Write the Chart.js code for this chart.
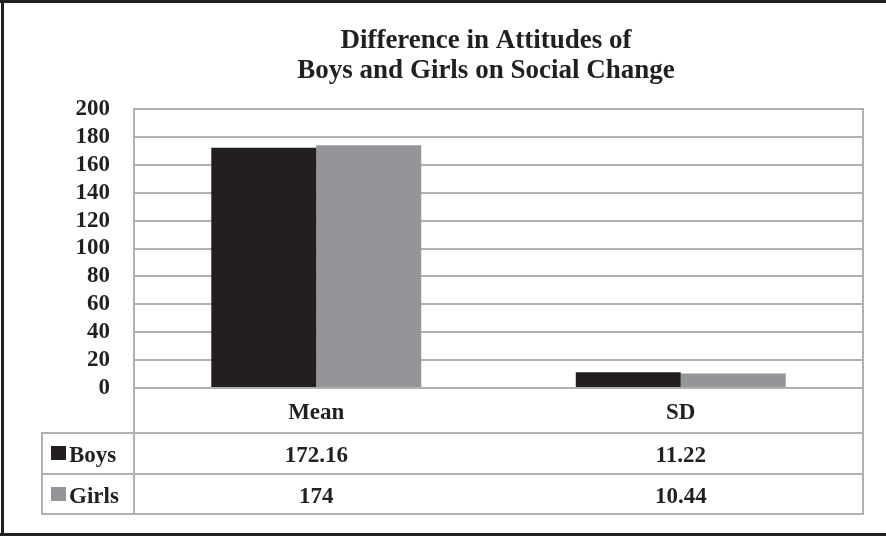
<!DOCTYPE html>
<html>
<head>
<meta charset="utf-8">
<script src="https://cdn.jsdelivr.net/npm/chart.js@4"></script>
<style>
  html, body { margin: 0; padding: 0; background: #ffffff; }
  #wrap { width: 886px; height: 536px; }
</style>
</head>
<body>
<div id="wrap"><canvas id="chart" width="886" height="536"></canvas></div>
<script>
// Categories and series
const categories = ['Mean', 'SD'];
const seriesNames = ['Boys', 'Girls'];
const boysValues = [172.16, 11.22];
const girlsValues = [174, 10.44];
const boysLabels = ['172.16', '11.22'];
const girlsLabels = ['174', '10.44'];
const yTickLabels = ['0', '20', '40', '60', '80', '100', '120', '140', '160', '180', '200'];
const titleLines = ['Difference in Attitudes of', 'Boys and Girls on Social Change'];

const BOYS_COLOR = '#231f20';
const GIRLS_COLOR = '#939598';
const GRID_COLOR = '#b0b0b0';
const TEXT_COLOR = '#231f20';
const SERIF = '"Liberation Serif", "Times New Roman", Times, serif';

// Frame, two-line title and the data table under the category axis
const tablePlugin = {
  id: 'dataTable',
  afterDraw(chart) {
    const ctx = chart.ctx;
    const area = chart.chartArea;
    const xs = chart.scales.x;
    const left = 42, axisLeft = area.left, right = area.right;
    const rowTops = [433, 474, 514];
    ctx.save();

    // frame
    ctx.fillStyle = BOYS_COLOR;
    ctx.fillRect(0, 0, 886, 3);
    ctx.fillRect(1, 0, 3, 536);
    ctx.fillRect(0, 533, 886, 3);

    // title
    ctx.fillStyle = TEXT_COLOR;
    ctx.font = 'bold 27px ' + SERIF;
    ctx.textAlign = 'center';
    ctx.textBaseline = 'alphabetic';
    ctx.fillText(titleLines[0], 486, 48);
    ctx.fillText(titleLines[1], 486, 78);

    // table lines
    ctx.strokeStyle = GRID_COLOR;
    ctx.lineWidth = 2;
    ctx.beginPath();
    rowTops.forEach(y => { ctx.moveTo(left, y); ctx.lineTo(right + 1, y); });
    ctx.moveTo(left, rowTops[0] - 1); ctx.lineTo(left, rowTops[2] + 1);
    ctx.moveTo(axisLeft, area.top - 1); ctx.lineTo(axisLeft, rowTops[2] + 1);
    ctx.moveTo(right, area.top - 1); ctx.lineTo(right, rowTops[2] + 1);
    ctx.stroke();

    // rows: legend key, series name, values
    const rows = [
      { name: seriesNames[0], color: BOYS_COLOR, labels: boysLabels, base: 462, key: 446 },
      { name: seriesNames[1], color: GIRLS_COLOR, labels: girlsLabels, base: 503, key: 487 }
    ];
    ctx.font = 'bold 23px ' + SERIF;
    rows.forEach(r => {
      ctx.fillStyle = r.color;
      ctx.fillRect(51, r.key, 15, 14);
      ctx.fillStyle = TEXT_COLOR;
      ctx.textAlign = 'left';
      ctx.fillText(r.name, 69, r.base);
      ctx.textAlign = 'center';
      r.labels.forEach((t, i) => ctx.fillText(t, xs.getPixelForValue(i), r.base));
    });
    ctx.restore();
  }
};

new Chart(document.getElementById('chart'), {
  type: 'bar',
  data: {
    labels: categories,
    datasets: [
      { label: seriesNames[0], data: boysValues, backgroundColor: BOYS_COLOR, borderWidth: 0 },
      { label: seriesNames[1], data: girlsValues, backgroundColor: GIRLS_COLOR, borderWidth: 0 }
    ]
  },
  options: {
    responsive: false,
    animation: false,
    devicePixelRatio: 1,
    layout: { padding: { left: 74, right: 23, top: 109, bottom: 103 } },
    datasets: { bar: { categoryPercentage: 0.576, barPercentage: 1.0 } },
    plugins: {
      legend: { display: false },
      tooltip: { enabled: false },
      title: { display: false }
    },
    scales: {
      x: {
        grid: { display: false, drawTicks: false },
        border: { display: false },
        ticks: {
          color: TEXT_COLOR,
          padding: 11,
          font: { family: SERIF, size: 23, weight: 'bold' }
        },
        afterFit(scale) { scale.height = 45; }
      },
      y: {
        min: 0,
        max: 200,
        grid: { color: GRID_COLOR, lineWidth: 2, drawTicks: false },
        border: { display: true, color: GRID_COLOR, width: 2 },
        ticks: {
          stepSize: 20,
          autoSkip: false,
          color: TEXT_COLOR,
          padding: 24,
          font: { family: SERIF, size: 23, weight: 'bold' },
          callback: (v, i) => yTickLabels[i]
        },
        afterFit(scale) { scale.width = 60; }
      }
    }
  },
  plugins: [tablePlugin]
});
</script>
</body>
</html>
